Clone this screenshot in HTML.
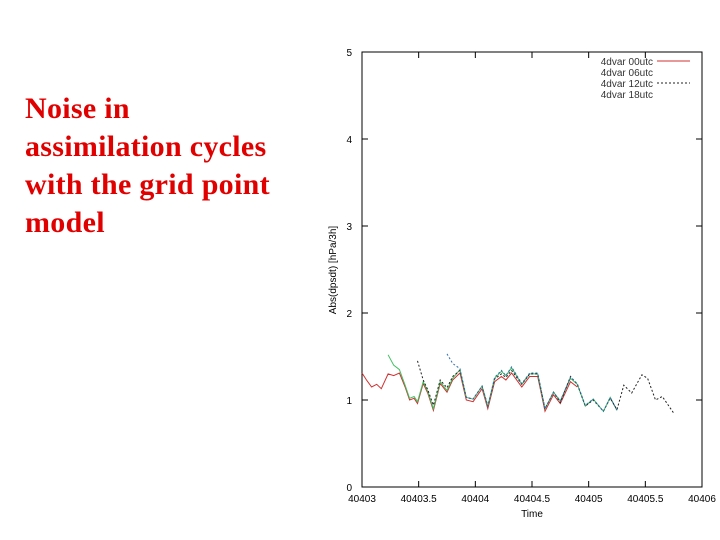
<!DOCTYPE html>
<html><head><meta charset="utf-8"><style>
body{margin:0;width:720px;height:540px;background:#fff;overflow:hidden;position:relative;font-family:"Liberation Sans",sans-serif}
#title{position:absolute;left:25px;top:90px;font-family:"Liberation Serif",serif;font-weight:bold;font-size:30px;line-height:38px;letter-spacing:0.3px;color:#e00000;white-space:nowrap}
svg{position:absolute;left:0;top:0}
</style></head><body>
<div id="title">Noise in<br>assimilation cycles<br>with the grid point<br>model</div>
<svg id="chart" width="720" height="540"></svg>
<script>
const times=[0,.04,.085,.13,.17,.23,.28,.33,.38,.42,.46,.49,.54,.58,.63,.69,.75,.80,.865,.92,.98,1.06,1.11,1.17,1.23,1.27,1.32,1.41,1.48,1.55,1.615,1.69,1.75,1.84,1.90,1.97,2.04,2.13,2.19,2.25,2.31,2.38,2.47,2.52,2.59,2.65,2.75];
const s00=[1.31,1.23,1.15,1.18,1.13,1.30,1.28,1.31,1.15,1.00,1.02,0.96,1.19,1.08,0.88,1.19,1.09,1.23,1.31,1.00,0.98,1.13,0.90,1.21,1.27,1.23,1.31,1.15,1.27,1.27,0.87,1.06,0.96,1.21,1.15,null,null,null,null,null,null,null,null,null,null,null,null];
const s06=[null,null,null,null,null,1.52,1.40,1.35,1.17,1.02,1.04,0.98,1.21,1.1,0.9,1.21,1.11,1.25,1.35,1.03,1.01,1.16,0.93,1.25,1.33,1.28,1.37,1.18,1.30,1.30,0.90,1.09,0.99,1.25,1.18,0.93,1.01,0.87,1.03,0.88,null,null,null,null,null,null,null];
const s12=[null,null,null,null,null,null,null,null,null,null,null,1.45,1.23,1.12,0.94,1.23,1.14,1.27,1.34,1.03,1.01,1.16,0.93,1.24,1.30,1.26,1.34,1.18,1.30,1.30,0.90,1.09,0.97,1.27,1.18,0.93,1.00,0.87,1.02,0.89,1.17,1.08,1.29,1.25,1.00,1.04,0.85];
const s18=[null,null,null,null,null,null,null,null,null,null,null,null,null,null,null,null,1.53,1.42,1.36,1.03,1.01,1.16,0.93,1.26,1.34,1.28,1.38,1.19,1.31,1.31,0.90,1.09,0.99,1.26,1.19,0.94,1.01,0.87,1.03,0.88,null,null,null,null,null,null,null];
const xTicks=["40403","40403.5","40404","40404.5","40405","40405.5","40406"];
const yTicks=["0","1","2","3","4","5"];
const L=362,R=702,T=52,B=487;
const X=t=>L+(t)*(R-L)/3, Y=v=>B-v*(B-T)/5;
const svg=document.getElementById('chart');const NS='http://www.w3.org/2000/svg';
function mk(tag,at,txt){const e=document.createElementNS(NS,tag);for(const k in at)e.setAttribute(k,at[k]);if(txt!==undefined)e.textContent=txt;svg.appendChild(e);return e;}
let e=mk('rect',{x:L,y:T,width:R-L,height:B-T,fill:'none',stroke:'#000','stroke-width':1});

xTicks.forEach((s,i)=>{const x=X(i*0.5);
 mk('line',{x1:x,x2:x,y1:B,y2:B-6,stroke:'#000'});mk('line',{x1:x,x2:x,y1:T,y2:T+6,stroke:'#000'});
 e=mk('text',{x:x,y:B+15,'font-size':10,'text-anchor':'middle',fill:'#000'},s);
 });
yTicks.forEach((s,i)=>{const y=Y(i);
 mk('line',{x1:L,x2:L+6,y1:y,y2:y,stroke:'#000'});mk('line',{x1:R,x2:R-6,y1:y,y2:y,stroke:'#000'});
 e=mk('text',{x:L-10,y:y+4,'font-size':10,'text-anchor':'end',fill:'#000'},s);
 });
e=mk('text',{x:532,y:517,'font-size':10,'text-anchor':'middle'},'Time');

e=mk('text',{x:336,y:270,'font-size':10,'text-anchor':'middle',transform:'rotate(-90 336 270)'},'Abs(dpsdt) [hPa/3h]');

const series=[[s00,'#d03030','none','4dvar 00utc','series-00utc'],[s06,'#40c060','none','4dvar 06utc','series-06utc'],[s12,'#222','2,2','4dvar 12utc','series-12utc'],[s18,'#3070b0','2,2','4dvar 18utc','series-18utc']];
series.forEach((sr,k)=>{let d='';let first=true;
 sr[0].forEach((v,i)=>{if(v===null){first=true;return;}d+=(first?'M':'L')+X(times[i]).toFixed(1)+','+Y(v).toFixed(1);first=false;});
 e=mk('path',{d:d,fill:'none',stroke:sr[1],'stroke-width':1,'stroke-dasharray':sr[2]});
 
 const ly=62+k*11;
 e=mk('text',{x:653,y:ly+3,'font-size':10,'text-anchor':'end',fill:'#333'},sr[3]);
 
 if(k%2===0){mk('line',{x1:657,x2:690,y1:ly-1,y2:ly-1,stroke:sr[1],'stroke-dasharray':sr[2]});}
});
</script>
</body></html>
